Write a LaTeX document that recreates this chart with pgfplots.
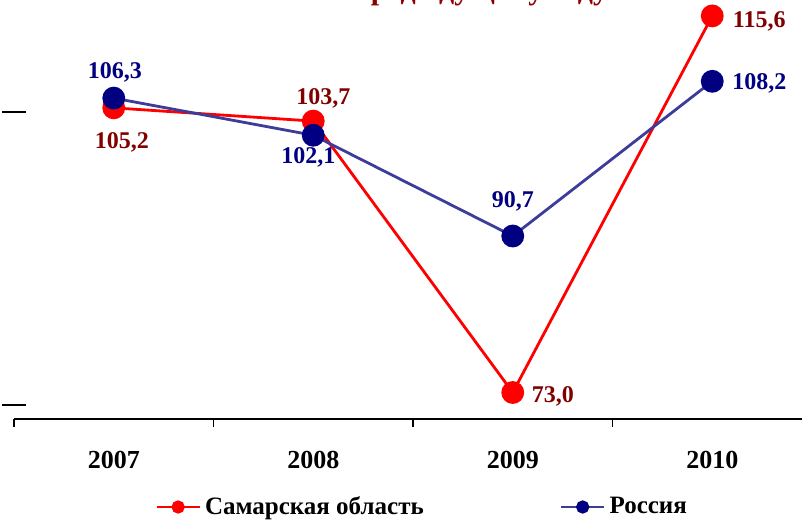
\documentclass[border=0pt]{standalone}
\usepackage{fontspec}
\setmainfont{Liberation Serif}
\usepackage{pgfplots}
\pgfplotsset{compat=1.18}

\definecolor{samred}{RGB}{255,0,0}
\definecolor{samlab}{RGB}{128,0,0}
\definecolor{rusline}{RGB}{60,60,155}
\definecolor{rusmark}{RGB}{0,0,128}
\definecolor{titlered}{RGB}{140,0,0}

\begin{document}
\begin{tikzpicture}
  \begin{axis}[
    scale only axis,
    width=399pt,
    height=209.5pt,
    xmin=-0.5, xmax=3.5,
    ymin=70, ymax=117.4,
    clip=false,
    axis x line*=bottom,
    axis y line*=left,
    y axis line style={draw=none},
    x axis line style={line width=0.6pt},
    xtick={-0.5,0.5,1.5,2.5,3.5},
    xticklabels={},
    x tick style={line width=0.6pt, black},
    tick align=outside,
    major tick length=4pt,
    extra x ticks={0,1,2,3},
    extra x tick labels={2007,2008,2009,2010},
    extra x tick style={major tick length=0pt},
    ytick=\empty,
    extra y ticks={71.6,104.75},
    extra y tick labels={,},
    extra y tick style={major tick length=12pt, tick align=center,
      y tick style={line width=1.2pt, black}},
    xticklabel style={font=\bfseries\fontsize{13}{15}\selectfont, anchor=center, yshift=-20.5pt},
    point meta=explicit symbolic,
    visualization depends on={value \thisrow{dx}\as\dx},
    visualization depends on={value \thisrow{dy}\as\dy},
    nodes near coords={\pgfplotspointmeta},
    every node near coord/.append style={anchor=center, xshift=\dx pt, yshift=\dy pt,
      font=\bfseries\fontsize{12}{14}\selectfont},
    legend columns=2,
    legend style={at={(0.169,-0.21)}, anchor=west, draw=none, fill=none,
      font=\bfseries\fontsize{12.5}{15}\selectfont,
      /tikz/every even column/.append style={column sep=66pt}},
    legend image code/.code={
      \draw[#1, mark size=2.6pt, mark repeat=2, mark phase=2]
        plot coordinates {(0pt,0pt) (10.75pt,0pt) (21.5pt,0pt)};},
  ]

  % Samara region
  \addplot[samred, line width=1.4pt, mark=*, mark size=5pt,
    mark options={fill=samred, draw=samred},
    every node near coord/.append style={text=samlab}]
    table[meta=lab] {
    x y     lab   dx    dy
    0 105.2 105,2 4     -17.5
    1 103.7 103,7 5     11.5
    2 73.0  73,0  20    -2
    3 115.6 115,6 23.5  -3
  };
  \addlegendentry{Самарская область}

  % Russia
  \addplot[rusline, line width=1.4pt, mark=*, mark size=5pt,
    mark options={fill=rusmark, draw=rusmark},
    every node near coord/.append style={text=rusmark}]
    table[meta=lab] {
    x y     lab   dx    dy
    0 106.3 106,3 0.5   13
    1 102.1 102,1 -2.5  -11
    2 90.7  90,7  0     17.5
    3 108.2 108,2 23.5  -1
  };
  \addlegendentry{Россия}

  \node[anchor=base east, text=titlered, font=\bfseries\fontsize{15}{18}\selectfont,
    inner sep=0pt] at (rel axis cs:0.745,1.002) {в \% к предыдущему году};
  \end{axis}
  \pgfresetboundingbox
  \path[use as bounding box] ([shift={(-7pt,-50.5pt)}]current axis.south west)
    rectangle ([shift={(394pt,0pt)}]current axis.north west);
\end{tikzpicture}
\end{document}
